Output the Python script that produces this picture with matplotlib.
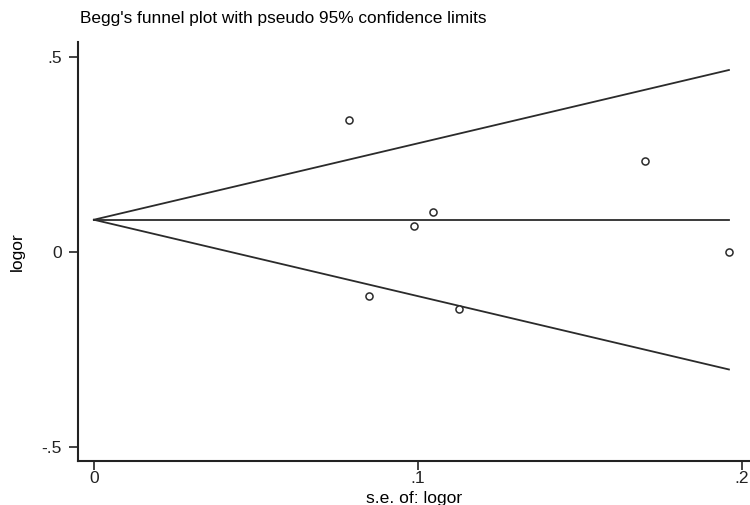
"""Begg's funnel plot with pseudo 95% confidence limits."""

import numpy as np
import matplotlib
matplotlib.use("Agg")
import matplotlib.pyplot as plt

plt.rcParams["font.family"] = ["Liberation Sans", "DejaVu Sans"]

# study-level standard errors and log odds ratios
se_logor = [0.0787, 0.0849, 0.0988, 0.1046, 0.1127, 0.1700, 0.1960]
logor = [0.338, -0.113, 0.067, 0.103, -0.147, 0.232, 0.000]
pooled = 0.082
se_max = 0.196

xticks = [0, 0.1, 0.2]
xtick_labels = ["0", ".1", ".2"]
yticks = [-0.5, 0, 0.5]
ytick_labels = ["-.5", "0", ".5"]

ink = "#2b2b2b"

fig = plt.figure(figsize=(7.5, 5.05), dpi=100)
ax = fig.add_axes([78 / 750, 44 / 505, 672 / 750, 419 / 505])

se_line = np.array([0.0, se_max])
ax.plot(se_line, pooled + 1.96 * se_line, color=ink, lw=1.3)
ax.plot(se_line, pooled - 1.96 * se_line, color=ink, lw=1.3)
ax.plot(se_line, [pooled, pooled], color=ink, lw=1.3)
ax.scatter(se_logor, logor, s=26, facecolors="white", edgecolors=ink, linewidths=1.1, zorder=3)

ax.set_xlim(-0.0049, 0.2025)
ax.set_ylim(-0.537, 0.538)
ax.set_xticks(xticks)
ax.set_xticklabels(xtick_labels)
ax.set_yticks(yticks)
ax.set_yticklabels(ytick_labels)

for side in ("top", "right"):
    ax.spines[side].set_visible(False)
for side in ("left", "bottom"):
    ax.spines[side].set_linewidth(1.5)
    ax.spines[side].set_color("#222222")
ax.tick_params(direction="out", length=6.5, width=1.2, colors="#222222", labelsize=12.5)
ax.tick_params(axis="x", pad=0.5)
ax.tick_params(axis="y", pad=5)

ax.set_xlabel("s.e. of: logor", fontsize=12.6, labelpad=4)
ax.set_ylabel("logor", fontsize=12.5, labelpad=12)
fig.text(80 / 750, 1 - 19 / 505, "Begg's funnel plot with pseudo 95% confidence limits",
         fontsize=12.4, ha="left", va="center")

fig.savefig("out.png", dpi=100)
